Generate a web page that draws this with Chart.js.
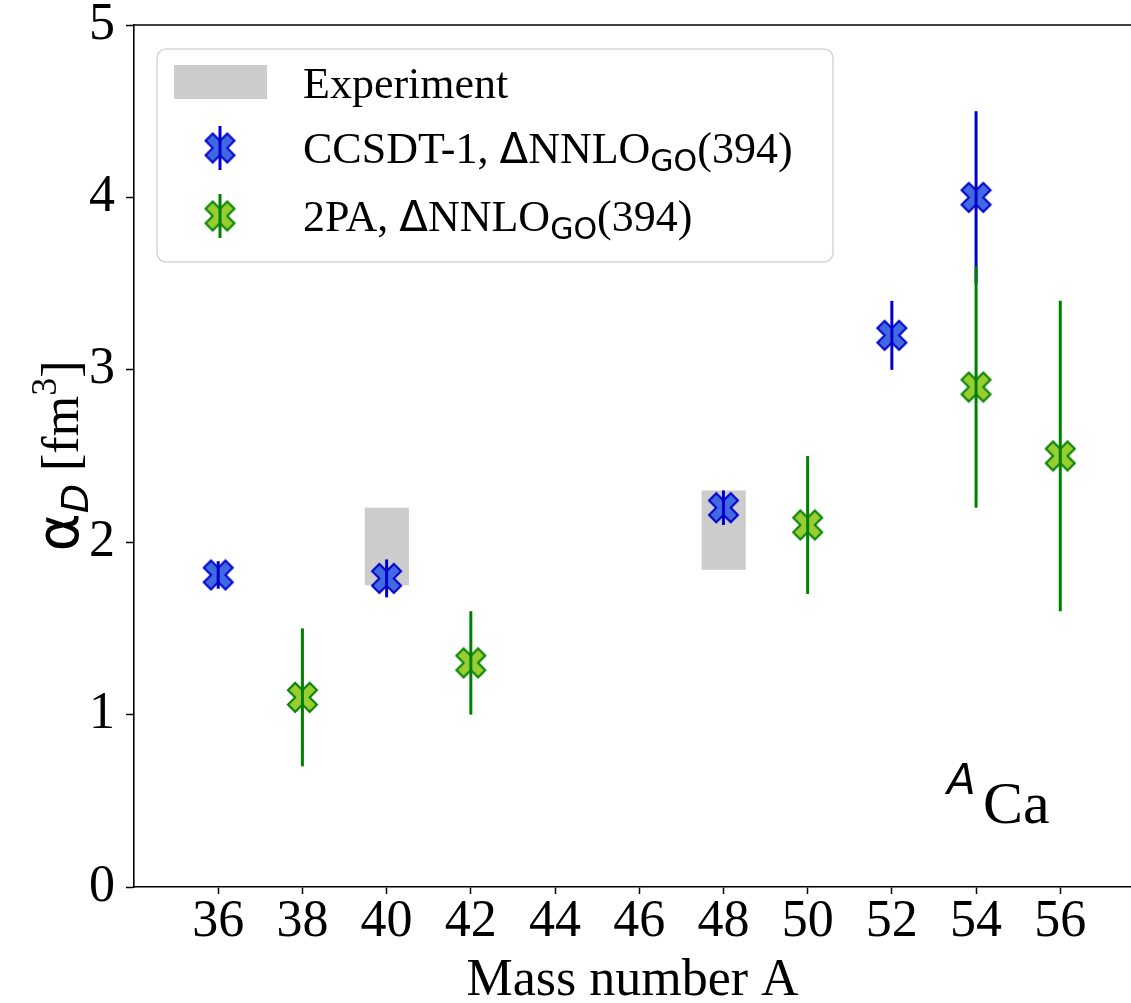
<!DOCTYPE html>
<html>
<head>
<meta charset="utf-8">
<script src="https://cdn.jsdelivr.net/npm/chart.js@4.4.0/dist/chart.umd.min.js"></script>
<style>
  html, body { margin: 0; padding: 0; background: #fff; overflow: hidden; }
  canvas { display: block; }
</style>
</head>
<body>
<canvas id="chart" width="1131" height="1003"></canvas>
<script>
// x axis: mass number A
const xTicks = [36, 38, 40, 42, 44, 46, 48, 50, 52, 54, 56];
const yTicks = [0, 1, 2, 3, 4, 5];

// CCSDT-1, ΔNNLO_GO(394)
const ccsdtA = [36, 40, 48, 52, 54];
const ccsdtVal = [1.81, 1.79, 2.20, 3.20, 4.00];
const ccsdtErr = [0.08, 0.11, 0.10, 0.20, 0.50];

// 2PA, ΔNNLO_GO(394)
const tpaA = [38, 42, 50, 54, 56];
const tpaVal = [1.10, 1.30, 2.10, 2.90, 2.50];
const tpaErr = [0.40, 0.30, 0.40, 0.70, 0.90];

// Experiment bands
const expA = [40, 48];
const expLow = [1.75, 1.84];
const expHigh = [2.20, 2.30];

const SERIF = '"Liberation Serif", "Times New Roman", serif';
const SANS = '"DejaVu Sans", sans-serif';

// matplotlib style filled 'X' marker
function makeXMarker(fill, edge, size) {
    const pad = 2;
    const c = document.createElement('canvas');
    c.width = c.height = size + pad * 2;
    const g = c.getContext('2d');
    g.translate(c.width / 2, c.height / 2);
    const pts = [[-0.25, -0.5], [0, -0.25], [0.25, -0.5], [0.5, -0.25], [0.25, 0], [0.5, 0.25],
                 [0.25, 0.5], [0, 0.25], [-0.25, 0.5], [-0.5, 0.25], [-0.25, 0], [-0.5, -0.25]];
    g.beginPath();
    pts.forEach((p, i) => {
        const px = p[0] * size, py = p[1] * size;
        if (i === 0) g.moveTo(px, py); else g.lineTo(px, py);
    });
    g.closePath();
    g.fillStyle = fill;
    g.fill();
    g.lineJoin = 'miter';
    g.lineWidth = 2;
    g.strokeStyle = edge;
    g.stroke();
    return c;
}

const blueX = makeXMarker('#4169e1', '#0000cd', 29);
const greenX = makeXMarker('#9acd32', '#008000', 29);

const errorSets = [
    { xs: ccsdtA, ys: ccsdtVal, errs: ccsdtErr, color: '#0000cd' },
    { xs: tpaA, ys: tpaVal, errs: tpaErr, color: '#008000' }
];

// draw a run of text pieces with different fonts / offsets
function drawRuns(ctx, runs, x, y) {
    let cx = x;
    runs.forEach(r => {
        ctx.font = r.font;
        ctx.fillText(r.text, cx, y + (r.dy || 0));
        cx += ctx.measureText(r.text).width;
    });
    return cx;
}
function runsWidth(ctx, runs) {
    let w = 0;
    runs.forEach(r => { ctx.font = r.font; w += ctx.measureText(r.text).width; });
    return w;
}

const expBoxPlugin = {
    id: 'expBoxes',
    beforeDatasetsDraw(chart) {
        const { ctx, scales: { x, y } } = chart;
        ctx.save();
        ctx.fillStyle = '#cccccc';
        expA.forEach((a, i) => {
            const l = x.getPixelForValue(a - 0.52);
            const r = x.getPixelForValue(a + 0.53);
            const t = y.getPixelForValue(expHigh[i]);
            const b = y.getPixelForValue(expLow[i]);
            ctx.fillRect(l, t, r - l, b - t);
        });
        ctx.restore();
    }
};

const errorBarPlugin = {
    id: 'errorBars',
    afterDatasetsDraw(chart) {
        const { ctx, scales: { x, y } } = chart;
        ctx.save();
        ctx.lineWidth = 3;
        errorSets.forEach(s => {
            ctx.strokeStyle = s.color;
            s.xs.forEach((a, i) => {
                const px = x.getPixelForValue(a);
                ctx.beginPath();
                ctx.moveTo(px, y.getPixelForValue(s.ys[i] - s.errs[i]));
                ctx.lineTo(px, y.getPixelForValue(s.ys[i] + s.errs[i]));
                ctx.stroke();
            });
        });
        ctx.restore();
    }
};

const decorPlugin = {
    id: 'decor',
    afterDraw(chart) {
        const { ctx, chartArea: a } = chart;
        ctx.save();

        // top spine
        ctx.strokeStyle = '#000';
        ctx.lineWidth = 1.6;
        ctx.beginPath();
        ctx.moveTo(a.left, a.top);
        ctx.lineTo(a.right, a.top);
        ctx.stroke();

        // legend box
        const lx = a.left + 23, ly = a.top + 24, lw = 676, lh = 213;
        ctx.beginPath();
        ctx.roundRect(lx, ly, lw, lh, 9);
        ctx.fillStyle = 'rgba(255,255,255,0.8)';
        ctx.fill();
        ctx.lineWidth = 1.5;
        ctx.strokeStyle = '#d6d6d6';
        ctx.stroke();

        ctx.fillStyle = '#cccccc';
        ctx.fillRect(a.left + 40, a.top + 40, 93, 34);

        const mx = a.left + 86;
        [[blueX, '#0000cd', a.top + 123], [greenX, '#008000', a.top + 191]].forEach(([img, col, my]) => {
            ctx.drawImage(img, mx - img.width / 2, my - img.height / 2);
            ctx.strokeStyle = col;
            ctx.lineWidth = 3;
            ctx.beginPath();
            ctx.moveTo(mx, my - 22);
            ctx.lineTo(mx, my + 22);
            ctx.stroke();
        });

        ctx.fillStyle = '#000';
        ctx.textBaseline = 'alphabetic';
        ctx.textAlign = 'left';
        const tx = a.left + 169;
        const big = '44px ' + SERIF;
        const sym = '42px ' + SANS;
        const sub = '30px ' + SANS;
        drawRuns(ctx, [{ text: 'Experiment', font: big }], tx, a.top + 73);
        drawRuns(ctx, [
            { text: 'CCSDT-1, ', font: big },
            { text: 'Δ', font: sym },
            { text: 'NNLO', font: big },
            { text: 'GO', font: sub, dy: 8 },
            { text: '(394)', font: big }
        ], tx, a.top + 138);
        drawRuns(ctx, [
            { text: '2PA, ', font: big },
            { text: 'Δ', font: sym },
            { text: 'NNLO', font: big },
            { text: 'GO', font: sub, dy: 8 },
            { text: '(394)', font: big }
        ], tx, a.top + 206);

        // nucleus label
        drawRuns(ctx, [{ text: 'A', font: 'oblique 42px ' + SANS }], a.right - 184, a.bottom - 93);
        drawRuns(ctx, [{ text: 'Ca', font: '60px ' + SERIF }], a.right - 148, a.bottom - 64);

        // y axis title
        const yRuns = [
            { text: 'α', font: '58px ' + SANS },
            { text: 'D', font: 'oblique 38px ' + SANS, dy: 10 },
            { text: ' [fm', font: '52px ' + SERIF },
            { text: '3', font: '36px ' + SERIF, dy: -22 },
            { text: ']', font: '52px ' + SERIF }
        ];
        const w = runsWidth(ctx, yRuns);
        ctx.translate(78, (a.top + a.bottom) / 2);
        ctx.rotate(-Math.PI / 2);
        drawRuns(ctx, yRuns, -w / 2, 0);

        ctx.restore();
    }
};

const ctx = document.getElementById('chart').getContext('2d');
new Chart(ctx, {
    type: 'scatter',
    data: {
        datasets: [
            {
                label: 'CCSDT-1, ΔNNLO_GO(394)',
                data: ccsdtA.map((a, i) => ({ x: a, y: ccsdtVal[i] })),
                pointStyle: blueX,
                pointRadius: 15
            },
            {
                label: '2PA, ΔNNLO_GO(394)',
                data: tpaA.map((a, i) => ({ x: a, y: tpaVal[i] })),
                pointStyle: greenX,
                pointRadius: 15
            }
        ]
    },
    options: {
        responsive: false,
        animation: false,
        layout: { autoPadding: false, padding: { left: 0, top: 25, right: 0, bottom: 0 } },
        plugins: {
            legend: { display: false },
            tooltip: { enabled: false }
        },
        scales: {
            x: {
                type: 'linear',
                min: 34,
                max: 57.68,
                afterBuildTicks: s => { s.ticks = xTicks.map(v => ({ value: v })); },
                afterFit: s => {
                    s.height = 116;
                    s.paddingLeft = 0; s.paddingRight = 0;
                },
                grid: { drawOnChartArea: false, tickLength: 7, tickColor: '#000', tickWidth: 1.5 },
                border: { color: '#000', width: 1.6 },
                ticks: { color: '#000', font: { family: SERIF, size: 52 }, padding: -3, maxRotation: 0, autoSkip: false },
                title: {
                    display: true,
                    text: 'Mass number A',
                    color: '#000',
                    font: { family: SERIF, size: 52, lineHeight: 1 },
                    padding: { top: 0, bottom: -4 }
                }
            },
            y: {
                min: 0,
                max: 5,
                afterBuildTicks: s => { s.ticks = yTicks.map(v => ({ value: v })); },
                afterFit: s => {
                    s.width = 134;
                    s.paddingTop = 0; s.paddingBottom = 0;
                },
                grid: { drawOnChartArea: false, tickLength: 8, tickColor: '#000', tickWidth: 1.5 },
                border: { color: '#000', width: 1.6 },
                ticks: { color: '#000', font: { family: SERIF, size: 52 }, padding: 11 }
            }
        }
    },
    plugins: [expBoxPlugin, errorBarPlugin, decorPlugin]
});
</script>
</body>
</html>
